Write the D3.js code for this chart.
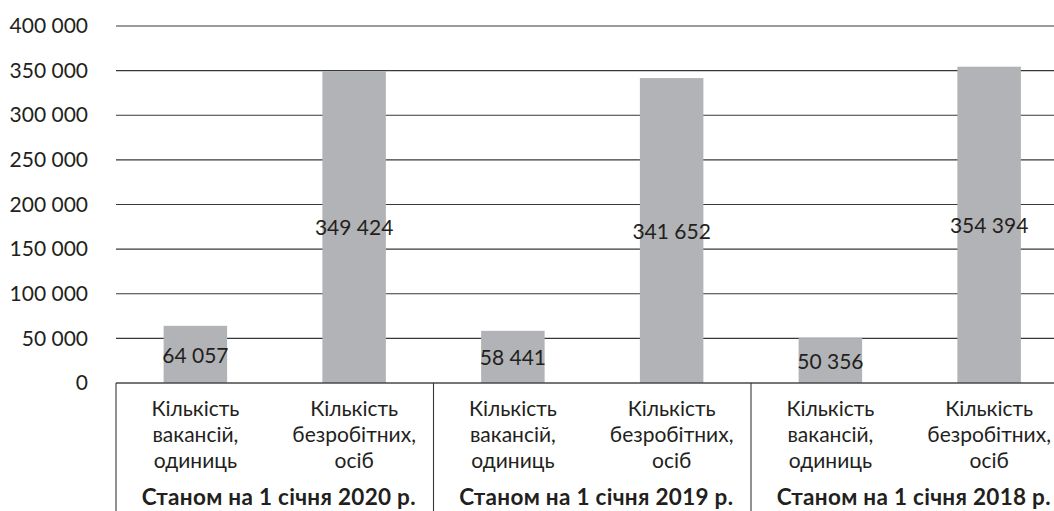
<!DOCTYPE html>
<html>
<head>
<meta charset="utf-8">
<script src="https://cdn.jsdelivr.net/npm/d3@7"></script>
<style>
    body { margin: 0; background: #fff; }
    svg { display: block; font-family: Lato, "Open Sans", sans-serif; }
    .tick text, .lbl { fill: #231f20; }
</style>
</head>
<body>
<div id="chart"></div>
<script>
// Data
const groups = ["Станом на 1 січня 2020 р.", "Станом на 1 січня 2019 р.", "Станом на 1 січня 2018 р."];
const measures = [["Кількість", "вакансій,", "одиниць"], ["Кількість", "безробітних,", "осіб"]];
const values = [64057, 349424, 58441, 341652, 50356, 354394];
const yTicks = [0, 50000, 100000, 150000, 200000, 250000, 300000, 350000, 400000];

const W = 1054, H = 511;
const margin = {top: 26, left: 116, bottom: 128};
const plotBottom = H - margin.bottom;   // zero line
const groupStep = 317.5;
const plotRight = margin.left + groupStep * groups.length;
const fs = 21;

const svg = d3.select("#chart").append("svg")
    .attr("width", W)
    .attr("height", H);

// Scales
const cells = d3.range(groups.length * measures.length);
const x = d3.scaleBand().domain(cells).range([margin.left, plotRight]).padding(0);
const xg = d3.scaleBand().domain(d3.range(groups.length)).range([margin.left, plotRight]).padding(0);
const y = d3.scaleLinear().domain([0, 400000]).range([plotBottom, margin.top]);

const fmt = v => d3.format(",")(v).replace(/,/g, " ");

// Gridlines
svg.append("g")
    .selectAll("line")
    .data(yTicks.filter(d => d > 0))
    .join("line")
    .attr("x1", margin.left)
    .attr("x2", W)
    .attr("y1", d => y(d))
    .attr("y2", d => y(d))
    .attr("stroke", "#3a3738")
    .attr("stroke-width", 1.1);

// Y axis labels
const yAxis = svg.append("g")
    .attr("transform", `translate(${margin.left},0)`)
    .call(d3.axisLeft(y).tickValues(yTicks).tickFormat(fmt).tickSize(0).tickPadding(28));
yAxis.select(".domain").remove();
yAxis.selectAll("text").attr("font-size", fs).attr("font-family", "Lato");

// Bars
const barW = x.bandwidth() * 0.4;
svg.append("g")
    .selectAll("rect")
    .data(values)
    .join("rect")
    .attr("x", (d, i) => x(i) + (x.bandwidth() - barW) / 2)
    .attr("y", d => y(d))
    .attr("width", barW)
    .attr("height", d => y(0) - y(d))
    .attr("fill", "#b2b3b6");

// Value labels centred in the bars
svg.append("g")
    .selectAll("text")
    .data(values)
    .join("text")
    .attr("class", "lbl")
    .attr("x", (d, i) => x(i) + x.bandwidth() / 2)
    .attr("y", d => (y(d) + y(0)) / 2 + 3)
    .attr("text-anchor", "middle")
    .attr("dominant-baseline", "middle")
    .attr("font-size", fs)
    .text(fmt);

// Category table below the axis
svg.append("line")
    .attr("x1", margin.left).attr("x2", W)
    .attr("y1", plotBottom).attr("y2", plotBottom)
    .attr("stroke", "#4a4748").attr("stroke-width", 1.4);

svg.append("g")
    .selectAll("line")
    .data(d3.range(groups.length))
    .join("line")
    .attr("x1", d => xg(d))
    .attr("x2", d => xg(d))
    .attr("y1", plotBottom)
    .attr("y2", H)
    .attr("stroke", "#3a3738")
    .attr("stroke-width", 1.1);

const cat = svg.append("g")
    .selectAll("text")
    .data(cells)
    .join("text")
    .attr("class", "lbl")
    .attr("text-anchor", "middle")
    .attr("font-size", fs)
    .attr("transform", d => `translate(${x(d) + x.bandwidth() / 2},${plotBottom + 33})`);
cat.selectAll("tspan")
    .data(d => measures[d % measures.length])
    .join("tspan")
    .attr("x", 0)
    .attr("y", (d, i) => i * 25.8)
    .text(d => d);

svg.append("g")
    .selectAll("text")
    .data(groups)
    .join("text")
    .attr("class", "lbl")
    .attr("x", (d, i) => xg(i) + xg.bandwidth() / 2 + 4)
    .attr("y", plotBottom + 122)
    .attr("text-anchor", "middle")
    .attr("font-size", 22.5)
    .attr("letter-spacing", 0.3)
    .attr("font-weight", "bold")
    .text(d => d);
</script>
</body>
</html>
